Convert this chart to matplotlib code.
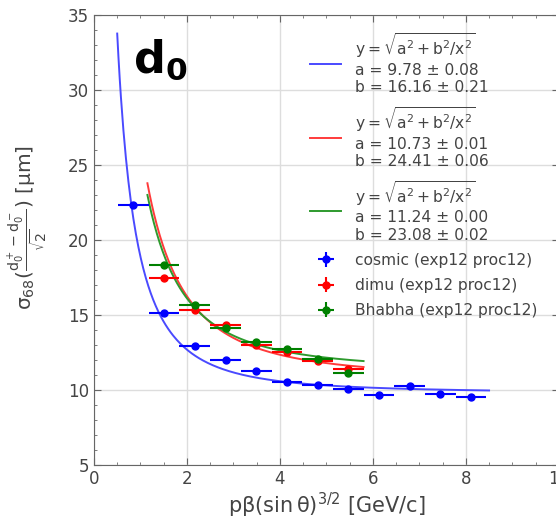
import numpy as np
import matplotlib.pyplot as plt
from matplotlib.ticker import MultipleLocator

# bin centres and half widths
x_cosmic = [0.85, 1.51, 2.17, 2.83, 3.49, 4.15, 4.81, 5.47, 6.13, 6.79, 7.45, 8.11]
y_cosmic = [22.3, 15.1, 12.95, 12.0, 11.25, 10.5, 10.3, 10.05, 9.65, 10.25, 9.75, 9.55]
ey_cosmic = [0.15, 0.1, 0.1, 0.08, 0.08, 0.08, 0.08, 0.08, 0.08, 0.1, 0.1, 0.1]

x_dimu = [1.51, 2.17, 2.83, 3.49, 4.15, 4.81, 5.47]
y_dimu = [17.45, 15.3, 14.3, 13.0, 12.55, 11.9, 11.4]
ey_dimu = [0.05, 0.04, 0.04, 0.04, 0.04, 0.04, 0.04]

x_bhabha = [1.51, 2.17, 2.83, 3.49, 4.15, 4.81, 5.47]
y_bhabha = [18.3, 15.65, 14.15, 13.2, 12.7, 12.05, 11.1]
ey_bhabha = [0.05, 0.04, 0.04, 0.04, 0.04, 0.04, 0.04]

xerr = 0.33

# fit results: (a, da, b, db, xmin, xmax)
fits = {
    'cosmic': (9.78, 0.08, 16.16, 0.21, 0.5, 8.5),
    'dimu': (10.73, 0.01, 24.41, 0.06, 1.15, 5.8),
    'bhabha': (11.24, 0.00, 23.08, 0.02, 1.15, 5.8),
}
colors = {'cosmic': 'blue', 'dimu': 'red', 'bhabha': 'green'}
fitcolors = {'cosmic': '#4a4aff', 'dimu': '#ff3b3b', 'bhabha': '#2e9a2e'}

txt = '#444444'
plt.rcParams['font.family'] = 'DejaVu Sans'
plt.rcParams['mathtext.default'] = 'regular'
plt.rcParams['text.color'] = txt
plt.rcParams['axes.labelcolor'] = txt
plt.rcParams['xtick.color'] = '#666666'
plt.rcParams['ytick.color'] = '#666666'
plt.rcParams['xtick.labelcolor'] = txt
plt.rcParams['ytick.labelcolor'] = txt

fig = plt.figure(figsize=(5.56, 5.2), dpi=100)
ax = fig.add_axes([0.169, 0.106, 0.836, 0.865])

for key in ['cosmic', 'dimu', 'bhabha']:
    a, da, b, db, x0, x1 = fits[key]
    xs = np.linspace(x0, x1, 300)
    lab = ('$y = \\sqrt{a^2 + b^2/x^2}$\n'
           f'a = {a:.2f} ± {da:.2f}\nb = {b:.2f} ± {db:.2f}')
    ax.plot(xs, np.sqrt(a**2 + b**2 / xs**2), color=fitcolors[key], lw=1.4, label=lab)

ax.errorbar(x_cosmic, y_cosmic, xerr=xerr, yerr=ey_cosmic, fmt='o', ms=5,
            color=colors['cosmic'], lw=1.5, label='cosmic (exp12 proc12)')
ax.errorbar(x_dimu, y_dimu, xerr=xerr, yerr=ey_dimu, fmt='o', ms=5,
            color=colors['dimu'], lw=1.5, label='dimu (exp12 proc12)')
ax.errorbar(x_bhabha, y_bhabha, xerr=xerr, yerr=ey_bhabha, fmt='o', ms=5,
            color=colors['bhabha'], lw=1.5, label='Bhabha (exp12 proc12)')

ax.set_xlim(0, 10)
ax.set_ylim(5, 35)
ax.xaxis.set_major_locator(MultipleLocator(2))
ax.xaxis.set_minor_locator(MultipleLocator(0.5))
ax.yaxis.set_major_locator(MultipleLocator(5))
ax.yaxis.set_minor_locator(MultipleLocator(1))
ax.tick_params(which='both', direction='in', top=True, right=True, labelsize=12)
ax.tick_params(which='major', length=5)
ax.tick_params(which='minor', length=2.5)
ax.grid(True, color='#dddddd', lw=1)
ax.set_axisbelow(True)
for s in ax.spines.values():
    s.set_color('#666666')

ax.set_xlabel('p$\\beta$(sin$\\,\\theta$)$^{3/2}$ [GeV/c]', fontsize=15, labelpad=2)
ax.set_ylabel('$\\sigma_{68}(\\frac{d_0^+ - d_0^-}{\\sqrt{2}})$ [$\\mu$m]', fontsize=14.5)
ax.yaxis.set_label_coords(-0.095, 0.527)

ax.text(0.085, 0.95, '$\\mathbf{d_0}$', transform=ax.transAxes, fontsize=32,
        color='black', va='top', ha='left')

ax.legend(loc='upper right', fontsize=11.2, frameon=False, labelspacing=0.65,
          handlelength=2.0, handletextpad=0.9, bbox_to_anchor=(0.985, 0.995))

fig.savefig('out.png', dpi=100)
